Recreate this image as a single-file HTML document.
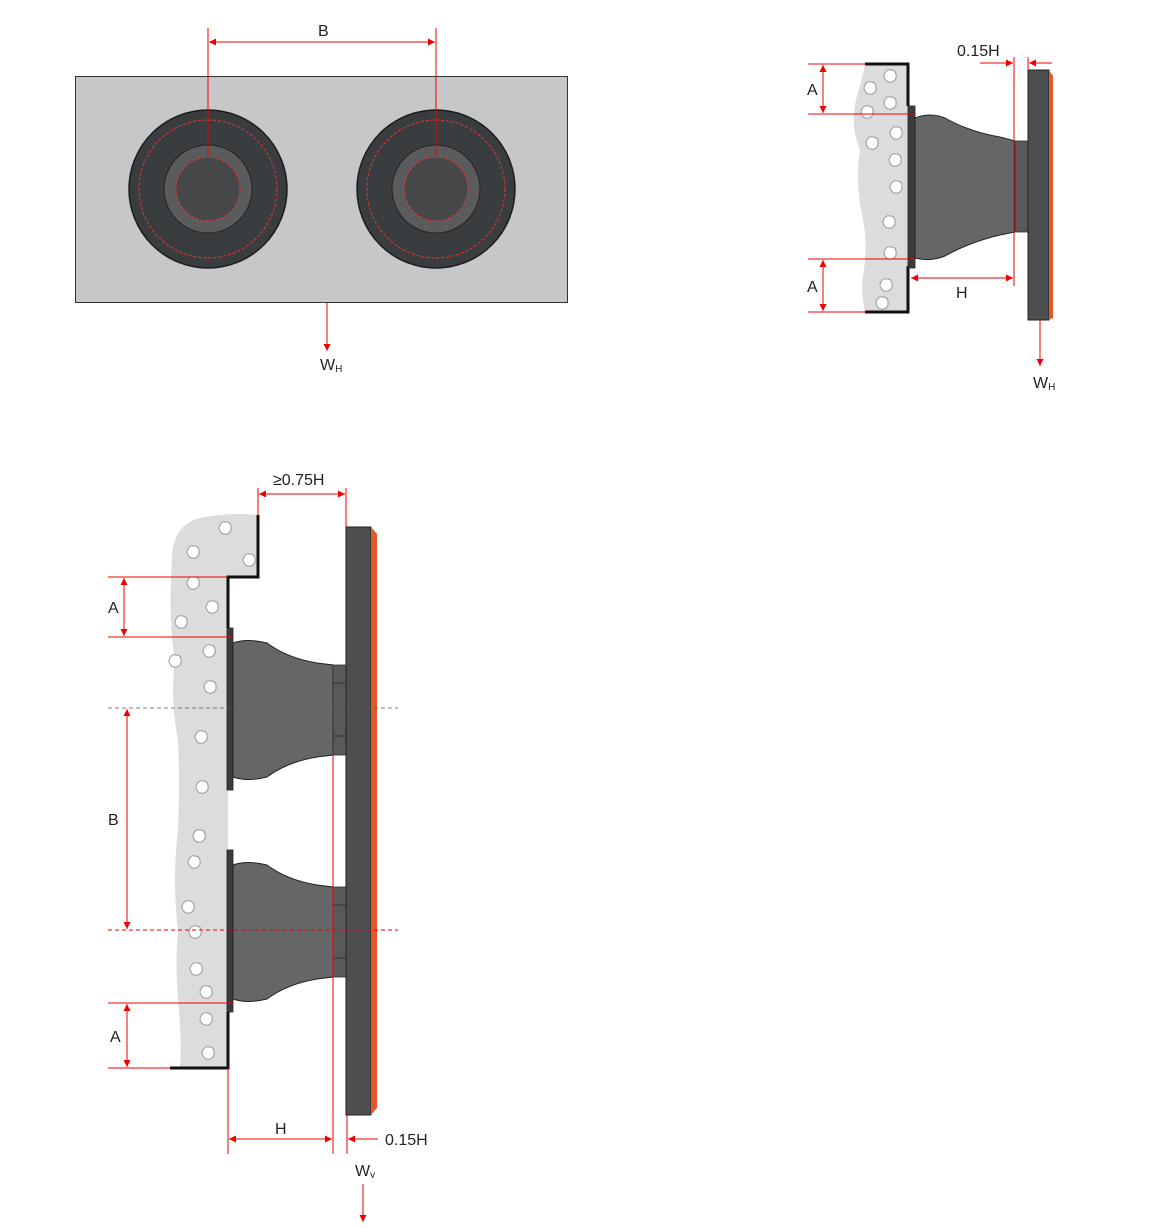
<!DOCTYPE html>
<html><head><meta charset="utf-8"><style>
html,body{margin:0;padding:0;background:#fff;}
svg{display:block;}
text{font-family:"Liberation Sans",sans-serif;font-size:16px;fill:#222;}
</style></head><body>
<svg width="1154" height="1228" viewBox="0 0 1154 1228" xmlns="http://www.w3.org/2000/svg">
<defs>
<marker id="a" viewBox="0 0 10 10" refX="10" refY="5" markerWidth="9" markerHeight="7" markerUnits="userSpaceOnUse" orient="auto-start-reverse"><path d="M0,0L10,5L0,10z" fill="#e00"/></marker>
<g id="peb"><path d="M-5,-3 Q-3,-7 1,-6 Q6,-6 6,-1 Q7,4 2,6 Q-3,7 -5,3 Q-7,0 -5,-3z" fill="#fff" stroke="#999" stroke-width="1"/></g>
<g id="fend">
  <rect x="0" y="0" width="6" height="162" fill="#3b3c3e" stroke="#222" stroke-width="0.8"/>
  <path d="M6,15 Q20,10 40,15 Q60,30 90,35 L106,37 L106,127 L90,129 Q60,134 40,149 Q20,154 6,149z" fill="#656668" stroke="#222" stroke-width="1"/>
  <rect x="106" y="37" width="14" height="90" fill="#58595b" stroke="#333" stroke-width="0.8"/>
  <line x1="106" y1="55" x2="120" y2="55" stroke="#333"/>
  <line x1="106" y1="108" x2="120" y2="108" stroke="#333"/>
</g>
</defs>

<!-- TOP LEFT -->
<rect x="75.5" y="76.5" width="492" height="226" fill="#c6c7c9" stroke="#333" stroke-width="1"/>
<g>
<circle cx="208" cy="189" r="79" fill="#3a3d40" stroke="#1c1c1c" stroke-width="1.5"/>
<circle cx="208" cy="189" r="69" fill="none" stroke="#e33" stroke-width="1" stroke-dasharray="3,2"/>
<circle cx="208" cy="189" r="44" fill="#5a5b5d" stroke="#222"/>
<circle cx="208" cy="189" r="32" fill="#474849" stroke="#e33" stroke-width="1" stroke-dasharray="3,2"/>
<circle cx="436" cy="189" r="79" fill="#3a3d40" stroke="#1c1c1c" stroke-width="1.5"/>
<circle cx="436" cy="189" r="69" fill="none" stroke="#e33" stroke-width="1" stroke-dasharray="3,2"/>
<circle cx="436" cy="189" r="44" fill="#5a5b5d" stroke="#222"/>
<circle cx="436" cy="189" r="32" fill="#474849" stroke="#e33" stroke-width="1" stroke-dasharray="3,2"/>
</g>
<line x1="208" y1="28" x2="208" y2="156" stroke="#e00"/>
<line x1="436" y1="28" x2="436" y2="156" stroke="#e00"/>
<line x1="209" y1="42" x2="435" y2="42" stroke="#e00" marker-start="url(#a)" marker-end="url(#a)"/>
<text x="318" y="36">B</text>
<line x1="327" y1="303" x2="327" y2="351" stroke="#e00" marker-end="url(#a)"/>
<text x="320" y="370">W<tspan font-size="10" dy="2">H</tspan></text>

<!-- TOP RIGHT -->
<path d="M865,64 L908,64 L908,312 L865,312 Q860,290 864,270 Q868,240 862,215 Q855,180 860,150 Q850,125 856,100 Q862,80 865,64z" fill="#dcdcdc"/>
<use href="#peb" x="870" y="88"/><use href="#peb" x="890" y="76"/><use href="#peb" x="890" y="103"/>
<use href="#peb" x="867" y="112"/><use href="#peb" x="896" y="133"/><use href="#peb" x="872" y="143"/>
<use href="#peb" x="895" y="160"/><use href="#peb" x="896" y="187"/><use href="#peb" x="889" y="222"/>
<use href="#peb" x="890" y="253"/><use href="#peb" x="886" y="285"/><use href="#peb" x="882" y="303"/>
<path d="M865,64 L908,64 L908,106 M908,266 L908,312 L865,312" fill="none" stroke="#111" stroke-width="3"/>
<rect x="908" y="106" width="7" height="162" fill="#3b3c3e" stroke="#222" stroke-width="0.8"/>
<path d="M915,118 Q930,112 945,118 Q970,132 1000,137 L1015,141 L1015,232 L1000,235 Q970,242 945,256 Q930,262 915,258z" fill="#656668" stroke="#222"/>
<rect x="1015" y="141" width="13" height="91" fill="#58595b" stroke="#333" stroke-width="0.8"/>
<rect x="1028" y="70" width="21" height="250" fill="#4d4e50" stroke="#222"/>
<path d="M1049,70 L1053,76 L1053,318 L1049,320z" fill="#e8572a"/>
<line x1="808" y1="64" x2="865" y2="64" stroke="#e00"/>
<line x1="808" y1="114" x2="915" y2="114" stroke="#e00"/>
<line x1="823" y1="65" x2="823" y2="113" stroke="#e00" marker-start="url(#a)" marker-end="url(#a)"/>
<text x="807" y="95">A</text>
<line x1="808" y1="259" x2="915" y2="259" stroke="#e00"/>
<line x1="808" y1="312" x2="865" y2="312" stroke="#e00"/>
<line x1="823" y1="260" x2="823" y2="311" stroke="#e00" marker-start="url(#a)" marker-end="url(#a)"/>
<text x="807" y="292">A</text>
<line x1="1014" y1="57" x2="1014" y2="286" stroke="#e00"/>
<line x1="911" y1="278" x2="1013" y2="278" stroke="#e00" marker-start="url(#a)" marker-end="url(#a)"/>
<text x="956" y="298">H</text>
<line x1="980" y1="63" x2="1013" y2="63" stroke="#e00" marker-end="url(#a)"/>
<line x1="1028" y1="57" x2="1028" y2="70" stroke="#e00"/>
<line x1="1052" y1="63" x2="1029" y2="63" stroke="#e00" marker-end="url(#a)"/>
<text x="957" y="56">0.15H</text>
<line x1="1040" y1="320" x2="1040" y2="366" stroke="#e00" marker-end="url(#a)"/>
<text x="1033" y="388">W<tspan font-size="10" dy="2">H</tspan></text>

<!-- BOTTOM -->
<path d="M258,515 L258,577 L228,577 L228,1068 L180,1068 Q182,1040 178,1000 Q175,960 178,930 Q172,880 178,830 Q180,780 178,740 Q170,700 175,660 Q168,620 172,560 Q172,525 200,518 Q230,512 258,515z" fill="#dcdcdc"/>
<use href="#peb" x="225" y="528"/><use href="#peb" x="193" y="552"/><use href="#peb" x="249" y="560"/>
<use href="#peb" x="193" y="583"/><use href="#peb" x="212" y="607"/><use href="#peb" x="181" y="622"/>
<use href="#peb" x="209" y="651"/><use href="#peb" x="175" y="661"/><use href="#peb" x="210" y="687"/>
<use href="#peb" x="201" y="737"/><use href="#peb" x="202" y="787"/><use href="#peb" x="199" y="836"/>
<use href="#peb" x="194" y="862"/><use href="#peb" x="188" y="907"/><use href="#peb" x="195" y="932"/>
<use href="#peb" x="196" y="969"/><use href="#peb" x="206" y="992"/><use href="#peb" x="206" y="1019"/>
<use href="#peb" x="208" y="1053"/>
<path d="M258,515 L258,577 L228,577 L228,628 M228,1012 L228,1068 L170,1068" fill="none" stroke="#111" stroke-width="3"/>
<use href="#fend" x="227" y="628"/>
<use href="#fend" x="227" y="850"/>
<rect x="346" y="527" width="25" height="588" fill="#4d4e50" stroke="#222"/>
<path d="M371,527 L377,534 L377,1108 L371,1115z" fill="#e8572a"/>
<line x1="108" y1="708" x2="398" y2="708" stroke="#555" stroke-width="0.8" stroke-dasharray="4,3"/>
<line x1="108" y1="930" x2="398" y2="930" stroke="#e00" stroke-dasharray="4,3"/>
<line x1="108" y1="577" x2="228" y2="577" stroke="#e00"/>
<line x1="108" y1="637" x2="233" y2="637" stroke="#e00"/>
<line x1="124" y1="578" x2="124" y2="636" stroke="#e00" marker-start="url(#a)" marker-end="url(#a)"/>
<text x="108" y="613">A</text>
<line x1="127" y1="709" x2="127" y2="929" stroke="#e00" marker-start="url(#a)" marker-end="url(#a)"/>
<text x="108" y="825">B</text>
<line x1="108" y1="1003" x2="233" y2="1003" stroke="#e00"/>
<line x1="108" y1="1068" x2="170" y2="1068" stroke="#e00"/>
<line x1="127" y1="1004" x2="127" y2="1067" stroke="#e00" marker-start="url(#a)" marker-end="url(#a)"/>
<text x="110" y="1042">A</text>
<line x1="228" y1="1068" x2="228" y2="1154" stroke="#e00"/>
<line x1="333" y1="755" x2="333" y2="1154" stroke="#e00"/>
<line x1="347" y1="1115" x2="347" y2="1154" stroke="#e00"/>
<line x1="229" y1="1139" x2="332" y2="1139" stroke="#e00" marker-start="url(#a)" marker-end="url(#a)"/>
<text x="275" y="1134">H</text>
<line x1="378" y1="1139" x2="348" y2="1139" stroke="#e00" marker-end="url(#a)"/>
<text x="385" y="1145">0.15H</text>
<line x1="258" y1="488" x2="258" y2="515" stroke="#e00"/>
<line x1="346" y1="488" x2="346" y2="527" stroke="#e00"/>
<line x1="259" y1="494" x2="345" y2="494" stroke="#e00" marker-start="url(#a)" marker-end="url(#a)"/>
<text x="273" y="485">≥0.75H</text>
<text x="355" y="1176">W<tspan font-size="10" dy="2">v</tspan></text>
<line x1="363" y1="1184" x2="363" y2="1222" stroke="#e00" marker-end="url(#a)"/>
</svg>
</body></html>
